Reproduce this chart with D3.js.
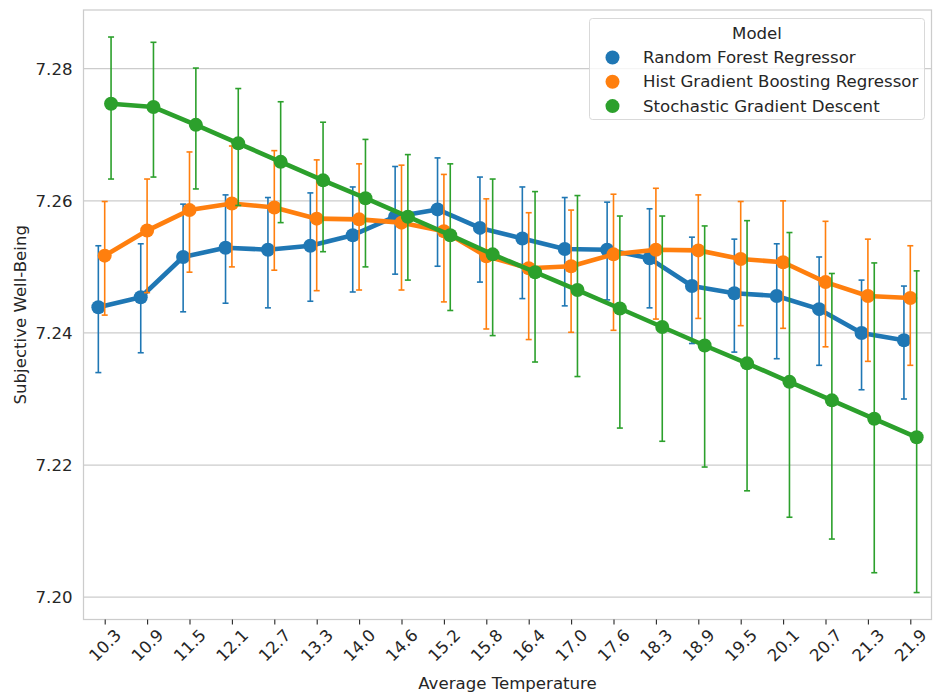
<!DOCTYPE html>
<html>
<head>
<meta charset="utf-8">
<script src="https://cdn.jsdelivr.net/npm/d3@7"></script>
<style>
  html, body { margin: 0; padding: 0; background: #fff; }
  svg { display: block; font-family: "DejaVu Sans", sans-serif; }
</style>
</head>
<body>
<svg id="chart" width="933" height="698"></svg>
<script>
// Average temperature bins (x categories)
const temperatures = ["10.3","10.9","11.5","12.1","12.7","13.3","14.0","14.6","15.2","15.8",
                      "16.4","17.0","17.6","18.3","18.9","19.5","20.1","20.7","21.3","21.9"];

const modelNames = ["Random Forest Regressor", "Hist Gradient Boosting Regressor", "Stochastic Gradient Descent"];
const modelColors = ["#1f77b4", "#ff7f0e", "#2ca02c"];

// Random Forest Regressor: mean and interval bounds
const rfMean = [7.2439, 7.2454, 7.2515, 7.2529, 7.2526, 7.2532, 7.2548, 7.2576, 7.2587, 7.2559,
                7.2543, 7.2527, 7.2526, 7.2513, 7.2471, 7.2460, 7.2456, 7.2436, 7.2400, 7.2389];
const rfLow  = [7.2340, 7.2370, 7.2432, 7.2445, 7.2438, 7.2448, 7.2462, 7.2489, 7.2501, 7.2477,
                7.2452, 7.2441, 7.2450, 7.2438, 7.2384, 7.2371, 7.2361, 7.2351, 7.2314, 7.2300];
const rfHigh = [7.2532, 7.2535, 7.2595, 7.2609, 7.2605, 7.2612, 7.2621, 7.2652, 7.2665, 7.2636,
                7.2621, 7.2605, 7.2598, 7.2588, 7.2545, 7.2542, 7.2535, 7.2515, 7.2480, 7.2471];

// Hist Gradient Boosting Regressor
const hgbMean = [7.2517, 7.2555, 7.2586, 7.2596, 7.2590, 7.2573, 7.2572, 7.2567, 7.2554, 7.2516,
                 7.2498, 7.2501, 7.2519, 7.2526, 7.2525, 7.2512, 7.2507, 7.2477, 7.2456, 7.2453];
const hgbLow  = [7.2427, 7.2461, 7.2492, 7.2500, 7.2495, 7.2464, 7.2465, 7.2465, 7.2447, 7.2406,
                 7.2390, 7.2401, 7.2404, 7.2421, 7.2422, 7.2411, 7.2407, 7.2379, 7.2357, 7.2351];
const hgbHigh = [7.2599, 7.2633, 7.2674, 7.2683, 7.2676, 7.2662, 7.2656, 7.2654, 7.2640, 7.2603,
                 7.2582, 7.2586, 7.2610, 7.2619, 7.2609, 7.2599, 7.2600, 7.2569, 7.2542, 7.2532];

// Stochastic Gradient Descent
const sgdMean = [7.2747, 7.2742, 7.2715, 7.2687, 7.2659, 7.2631, 7.2604, 7.2576, 7.2548, 7.2519,
                 7.2492, 7.2465, 7.2437, 7.2409, 7.2381, 7.2354, 7.2326, 7.2298, 7.2270, 7.2242];
const sgdLow  = [7.2633, 7.2636, 7.2618, 7.2593, 7.2567, 7.2523, 7.2500, 7.2480, 7.2434, 7.2396,
                 7.2356, 7.2334, 7.2256, 7.2236, 7.2197, 7.2161, 7.2121, 7.2088, 7.2037, 7.2007];
const sgdHigh = [7.2848, 7.2840, 7.2801, 7.2770, 7.2750, 7.2719, 7.2693, 7.2670, 7.2656, 7.2633,
                 7.2614, 7.2608, 7.2577, 7.2577, 7.2562, 7.2570, 7.2552, 7.2490, 7.2506, 7.2494];

const yTicks = [7.20, 7.22, 7.24, 7.26, 7.28];
const yDomain = [7.19662, 7.28889];

const xLabel = "Average Temperature";
const yLabel = "Subjective Well-Being";
const legendTitle = "Model";

const series = [
  { name: modelNames[0], color: modelColors[0], mean: rfMean,  low: rfLow,  high: rfHigh },
  { name: modelNames[1], color: modelColors[1], mean: hgbMean, low: hgbLow, high: hgbHigh },
  { name: modelNames[2], color: modelColors[2], mean: sgdMean, low: sgdLow, high: sgdHigh }
];

const textColor = "#262626";
const gridColor = "#cccccc";
const fontSize = 16.6;

const plot = { left: 83.5, right: 931.5, top: 10, bottom: 619.5 };

const svg = d3.select("#chart");

const x = d3.scalePoint().domain(temperatures).range([plot.left, plot.right]).padding(0.5);
const step = x.step();
const y = d3.scaleLinear().domain(yDomain).range([plot.bottom, plot.top]);

// Horizontal grid
svg.append("g")
  .selectAll("line")
  .data(yTicks)
  .join("line")
  .attr("x1", plot.left).attr("x2", plot.right)
  .attr("y1", d => y(d)).attr("y2", d => y(d))
  .attr("stroke", gridColor).attr("stroke-width", 1.25);

// Frame
svg.append("rect")
  .attr("x", plot.left).attr("y", plot.top)
  .attr("width", plot.right - plot.left).attr("height", plot.bottom - plot.top)
  .attr("fill", "none").attr("stroke", gridColor).attr("stroke-width", 1.25);

// Y axis labels
const yAxis = svg.append("g")
  .attr("transform", `translate(${plot.left},0)`)
  .call(d3.axisLeft(y).tickValues(yTicks).tickFormat(d3.format(".2f")).tickSize(0).tickPadding(11));
yAxis.select(".domain").remove();
yAxis.selectAll("text")
  .attr("fill", textColor)
  .style("font-size", fontSize + "px")
  .style("font-family", "DejaVu Sans");

// X axis ticks and rotated labels
const xAxis = svg.append("g")
  .attr("transform", `translate(0,${plot.bottom})`)
  .call(d3.axisBottom(x).tickSize(5).tickPadding(3));
xAxis.select(".domain").remove();
xAxis.selectAll(".tick line").attr("stroke", textColor).attr("stroke-width", 1.1);
xAxis.selectAll(".tick text")
  .attr("fill", textColor)
  .style("font-size", fontSize + "px")
  .style("font-family", "DejaVu Sans")
  .attr("text-anchor", "middle")
  .attr("dy", null)
  .attr("y", null)
  .attr("dominant-baseline", "central")
  .each(function () {
    const w = this.getComputedTextLength();
    const h = fontSize * 0.75;
    const half = (w + h) / (2 * Math.SQRT2);
    d3.select(this).attr("transform", `translate(0,${8.5 + half}) rotate(-45)`);
  });

// Axis titles
svg.append("text")
  .attr("x", (plot.left + plot.right) / 2)
  .attr("y", 689)
  .attr("text-anchor", "middle")
  .attr("fill", textColor)
  .style("font-size", fontSize + "px")
  .text(xLabel);

svg.append("text")
  .attr("transform", `translate(26,${(plot.top + plot.bottom) / 2}) rotate(-90)`)
  .attr("text-anchor", "middle")
  .attr("fill", textColor)
  .style("font-size", fontSize + "px")
  .text(yLabel);

// Series: dodged points with interval bars
const offsets = [-0.15, 0, 0.15];
const capHalf = 3;

series.forEach((s, i) => {
  const g = svg.append("g");
  const px = k => x(temperatures[k]) + offsets[i] * step;
  const idx = d3.range(temperatures.length);

  // interval bars
  const eb = g.append("g").attr("stroke", s.color).attr("stroke-width", 1.6);
  eb.selectAll("line.bar").data(idx).join("line").attr("class", "bar")
    .attr("x1", px).attr("x2", px)
    .attr("y1", k => y(s.low[k])).attr("y2", k => y(s.high[k]));
  eb.selectAll("line.capl").data(idx).join("line").attr("class", "capl")
    .attr("x1", k => px(k) - capHalf).attr("x2", k => px(k) + capHalf)
    .attr("y1", k => y(s.low[k])).attr("y2", k => y(s.low[k]));
  eb.selectAll("line.caph").data(idx).join("line").attr("class", "caph")
    .attr("x1", k => px(k) - capHalf).attr("x2", k => px(k) + capHalf)
    .attr("y1", k => y(s.high[k])).attr("y2", k => y(s.high[k]));

  // connecting line
  const line = d3.line().x(k => px(k)).y(k => y(s.mean[k]));
  g.append("path")
    .datum(idx)
    .attr("d", line)
    .attr("fill", "none")
    .attr("stroke", s.color)
    .attr("stroke-width", 4.6)
    .attr("stroke-linejoin", "round");

  // markers
  g.selectAll("circle").data(idx).join("circle")
    .attr("cx", px).attr("cy", k => y(s.mean[k]))
    .attr("r", 7)
    .attr("fill", s.color);
});

// Legend
const lg = svg.append("g");
lg.append("rect")
  .attr("x", 589.5).attr("y", 18.5)
  .attr("width", 335).attr("height", 101)
  .attr("rx", 3)
  .attr("fill", "#fff").attr("fill-opacity", 0.8)
  .attr("stroke", "#d9d9d9").attr("stroke-width", 1);
lg.append("text")
  .attr("x", 757).attr("y", 33)
  .attr("text-anchor", "middle")
  .attr("dominant-baseline", "central")
  .attr("fill", textColor)
  .style("font-size", fontSize + "px")
  .text(legendTitle);
series.forEach((s, i) => {
  const cy = 57.5 + i * 24.3;
  lg.append("circle").attr("cx", 612.5).attr("cy", cy).attr("r", 7).attr("fill", s.color);
  lg.append("text")
    .attr("x", 643).attr("y", cy)
    .attr("dominant-baseline", "central")
    .attr("fill", textColor)
    .style("font-size", fontSize + "px")
    .text(s.name);
});
</script>
</body>
</html>
